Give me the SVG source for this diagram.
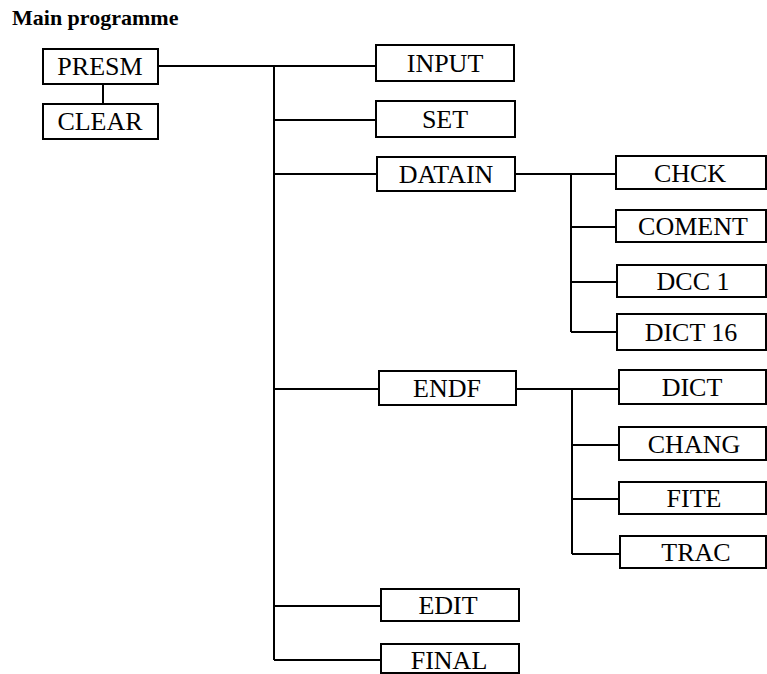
<svg xmlns="http://www.w3.org/2000/svg" width="767" height="674" viewBox="0 0 767 674">
<style>
.box{fill:#fff;stroke:#000;stroke-width:2}
.lbl{font-family:"Liberation Serif","Times New Roman",serif;font-size:26px;fill:#000;text-anchor:middle}
.ttl{font-family:"Liberation Serif","Times New Roman",serif;font-size:22px;font-weight:bold;fill:#000}
.ln{stroke:#000;stroke-width:2;fill:none}
</style>
<rect width="767" height="674" fill="#fff"/>
<text class="ttl" x="12" y="25">Main programme</text>
<g id="connectors">
<path class="ln" d="M103 84V104"/>
<path class="ln" d="M158 66H376"/>
<path class="ln" d="M274 66V660"/>
<path class="ln" d="M274 120H376"/>
<path class="ln" d="M274 174H377"/>
<path class="ln" d="M274 389H379"/>
<path class="ln" d="M274 606H381"/>
<path class="ln" d="M274 660H381"/>
<path class="ln" d="M515 174H616"/>
<path class="ln" d="M571 174V332"/>
<path class="ln" d="M571 227H616"/>
<path class="ln" d="M571 282H616"/>
<path class="ln" d="M571 332H617"/>
<path class="ln" d="M516 389H619"/>
<path class="ln" d="M572 389V554"/>
<path class="ln" d="M572 445H619"/>
<path class="ln" d="M572 499H619"/>
<path class="ln" d="M572 554H620"/>
</g>
<g id="PRESM"><rect class="box" x="43" y="49" width="115" height="35"/><text class="lbl" x="100" y="75">PRESM</text></g>
<g id="CLEAR"><rect class="box" x="43" y="104" width="115" height="35"/><text class="lbl" x="100" y="130">CLEAR</text></g>
<g id="INPUT"><rect class="box" x="376" y="45" width="138" height="36"/><text class="lbl" x="445" y="72">INPUT</text></g>
<g id="SET"><rect class="box" x="376" y="101" width="139" height="36"/><text class="lbl" x="445" y="128">SET</text></g>
<g id="DATAIN"><rect class="box" x="377" y="157" width="138" height="34"/><text class="lbl" x="446" y="183">DATAIN</text></g>
<g id="CHCK"><rect class="box" x="616" y="156" width="150" height="33"/><text class="lbl" x="690" y="182">CHCK</text></g>
<g id="COMENT"><rect class="box" x="616" y="210" width="150" height="32"/><text class="lbl" x="693" y="235">COMENT</text></g>
<g id="DCC1"><rect class="box" x="617" y="265" width="149" height="32"/><text class="lbl" x="693" y="290">DCC 1</text></g>
<g id="DICT16"><rect class="box" x="617" y="314" width="149" height="36"/><text class="lbl" x="691" y="341">DICT 16</text></g>
<g id="ENDF"><rect class="box" x="379" y="371" width="137" height="34"/><text class="lbl" x="447" y="397">ENDF</text></g>
<g id="DICT"><rect class="box" x="619" y="370" width="147" height="34"/><text class="lbl" x="692" y="396">DICT</text></g>
<g id="CHANG"><rect class="box" x="619" y="427" width="147" height="33"/><text class="lbl" x="694" y="453">CHANG</text></g>
<g id="FITE"><rect class="box" x="619" y="482" width="147" height="32"/><text class="lbl" x="694" y="507">FITE</text></g>
<g id="TRAC"><rect class="box" x="620" y="536" width="146" height="32"/><text class="lbl" x="696" y="561">TRAC</text></g>
<g id="EDIT"><rect class="box" x="381" y="589" width="138" height="32"/><text class="lbl" x="448" y="614">EDIT</text></g>
<g id="FINAL"><rect class="box" x="381" y="644" width="138" height="29"/><text class="lbl" x="449" y="669">FINAL</text></g>
</svg>
